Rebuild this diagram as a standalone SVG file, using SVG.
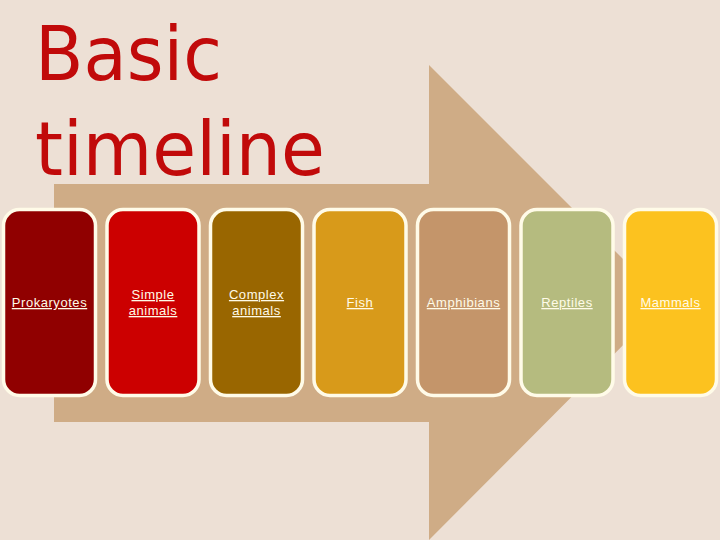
<svg xmlns="http://www.w3.org/2000/svg" width="720" height="540" viewBox="0 0 720 540">
<style>
.box{stroke:#fffbe8;stroke-width:3.5}
.lbl{font-family:"Liberation Sans",Arial,sans-serif;font-size:13px;letter-spacing:0.55px;fill:#fffbe8;text-anchor:middle;text-decoration:underline}
.title{font-family:"DejaVu Sans","Comic Sans MS",sans-serif;font-size:74px;fill:#c10a0a}
</style>
<rect width="720" height="540" fill="#ede0d5"/>
<g id="arrow">
<polygon points="54,184 429,184 429,65 666,302 429,540 429,422 54,422" fill="#cfac86"/>
</g>
<g id="title">
<text class="title" x="35" y="80" textLength="187" lengthAdjust="spacingAndGlyphs">Basic</text>
<text class="title" x="35" y="175" textLength="290" lengthAdjust="spacingAndGlyphs">timeline</text>
</g>
<g id="n1"><rect class="box" x="3.5" y="209.5" width="92" height="186" rx="16" fill="#900000"/><text class="lbl" x="49.5" y="307">Prokaryotes</text></g>
<g id="n2"><rect class="box" x="107" y="209.5" width="92" height="186" rx="16" fill="#cc0000"/><text class="lbl" x="153" y="299">Simple</text><text class="lbl" x="153" y="315">animals</text></g>
<g id="n3"><rect class="box" x="210.5" y="209.5" width="92" height="186" rx="16" fill="#996600"/><text class="lbl" x="256.5" y="299">Complex</text><text class="lbl" x="256.5" y="315">animals</text></g>
<g id="n4"><rect class="box" x="314" y="209.5" width="92" height="186" rx="16" fill="#d89a1a"/><text class="lbl" x="360" y="307">Fish</text></g>
<g id="n5"><rect class="box" x="417.5" y="209.5" width="92" height="186" rx="16" fill="#c4956a"/><text class="lbl" x="463.5" y="307">Amphibians</text></g>
<g id="n6"><rect class="box" x="521" y="209.5" width="92" height="186" rx="16" fill="#b5bb7f"/><text class="lbl" x="567" y="307">Reptiles</text></g>
<g id="n7"><rect class="box" x="624.5" y="209.5" width="92" height="186" rx="16" fill="#fcc21f"/><text class="lbl" x="670.5" y="307">Mammals</text></g>
<g id="connectors"></g>
</svg>
